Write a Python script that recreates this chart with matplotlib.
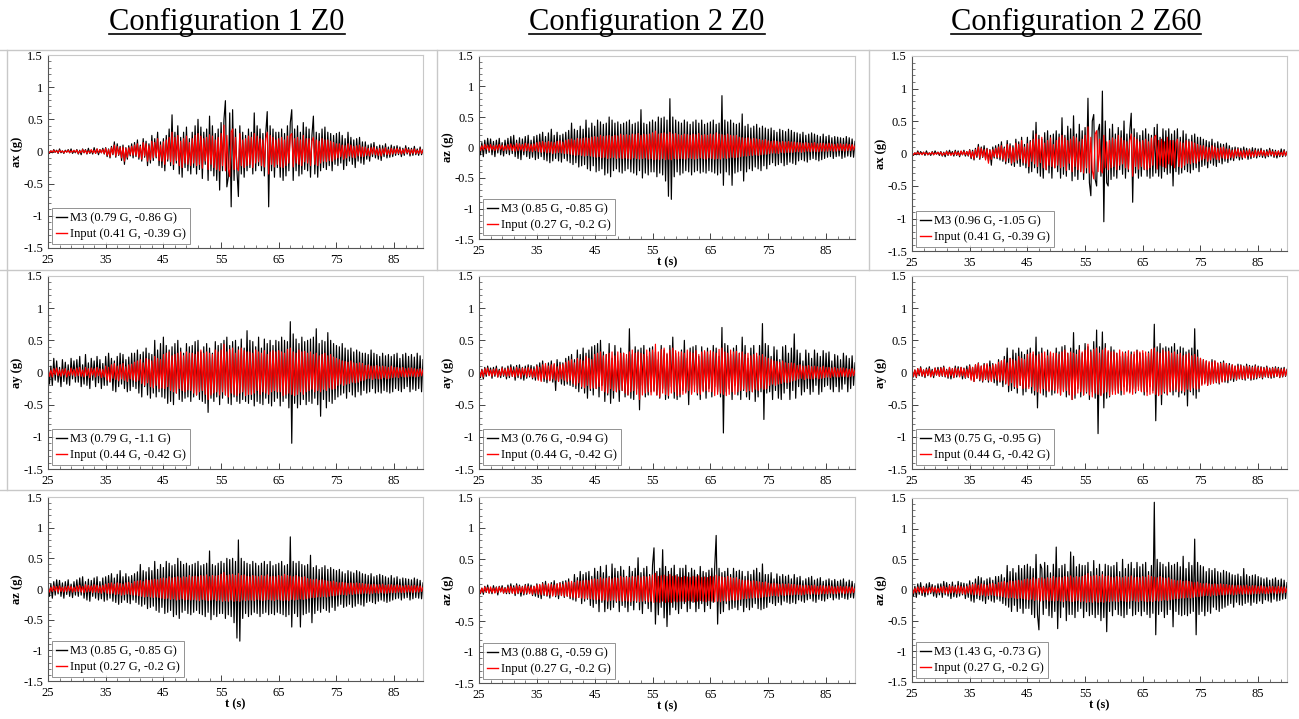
import numpy as np
import matplotlib
matplotlib.use('Agg')
import matplotlib.pyplot as plt
from matplotlib.lines import Line2D
from matplotlib.ticker import FixedLocator, MultipleLocator

plt.rcParams['font.family'] = ['Liberation Serif', 'DejaVu Serif']

# acceleration records, hundredths of g, one sample every 0.25 s from t=25 to t=90
# (20 samples = 5 s per row)
in_x = [1,-2,1,-1,2,-1,1,-2,2,-1,1,-2,1,-1,2,-2,1,-1,2,-1,
        2,-3,1,-2,3,-2,2,-3,1,-2,3,-2,2,-3,4,-2,3,-2,3,-3,
        5,-6,3,-8,6,-4,10,-7,8,-5,6,-10,7,-15,5,-9,6,-5,8,-6,
        10,-6,12,-9,8,-12,14,-7,12,-15,9,-13,16,-10,14,-8,20,-14,10,-15,
        15,-20,18,-12,22,-16,30,-20,22,-14,25,-22,16,-25,20,-18,24,-20,14,-22,
        20,-18,25,-22,28,-20,24,-26,20,-15,22,-28,26,-20,24,-25,18,-28,22,-30,
        28,-22,41,-30,25,-26,-39,30,35,-28,22,-25,-30,28,-22,18,-25,20,-22,24,
        -20,22,-25,28,-18,24,-16,20,-22,18,-24,20,30,-35,25,-20,22,-24,18,-20,
        20,-24,22,-25,18,-22,24,-18,25,28,-24,20,-18,22,-20,18,-22,25,-16,20,
        -18,20,-22,16,22,-20,18,-22,16,-18,20,-15,18,-16,18,-14,16,-15,14,-12,
        12,-10,12,-8,10,-12,9,-10,12,-7,10,-9,8,-10,9,-7,10,-8,7,-8,
        7,-6,5,-7,6,-4,7,-5,4,-6,5,-7,4,-4,6,-5,3,-5,5,-4,
        4,-3,5,-3,4,-4,3,-3,5,-2,3,-4,3,-3,4,-3,2,-3,4,-3, 2]
in_y = [5,-6,4,-7,6,-3,7,-5,4,-6,5,-4,6,-7,3,-5,7,-4,5,-6,
        7,-5,8,-6,4,-7,8,-5,6,-8,7,-4,6,-7,8,-5,6,-8,5,-7,
        10,-12,8,-14,12,-9,14,-11,10,-13,12,-10,14,-12,9,-14,12,-10,13,-12,
        16,-14,18,-12,20,-17,15,-20,22,-16,20,-22,18,-24,25,-20,22,-25,20,-24,
        28,-25,30,-22,32,-28,26,-30,28,-32,30,-25,32,-28,26,-30,32,-27,30,-28,
        30,-32,28,-35,32,-30,35,-28,30,-34,32,-42,30,-35,28,-32,35,-30,32,-35,
        35,-30,44,-35,32,-38,36,-32,38,-34,30,-36,35,-32,38,-30,34,-36,32,-34,
        32,-34,30,-32,35,-28,32,-34,30,-30,34,-32,28,-34,32,-30,34,-28,32,-30,
        34,-30,32,-36,30,-34,36,-32,38,-34,32,-36,30,-34,35,-30,32,-34,33,-30,
        30,-28,32,-26,28,-30,30,-28,26,-30,28,-26,30,-28,26,-24,28,-26,24,-25,
        22,-20,20,-18,18,-20,17,-18,16,-17,18,-15,15,-16,14,-15,15,-13,14,-12,
        11,-10,12,-9,10,-11,10,-9,11,-10,9,-10,10,-8,9,-10,8,-9,10,-8,
        8,-7,8,-8,7,-6,8,-7,6,-7,7,-6,7,-6,6,-7,5,-6,6,-5, 4]
in_z = [4,-5,3,-4,5,-3,4,-5,5,-4,3,-5,4,-4,5,-3,4,-5,3,-4,
        5,-4,6,-5,4,-6,7,-5,6,-4,5,-6,7,-5,6,-6,5,-7,6,-5,
        8,-7,9,-8,10,-7,8,-9,10,-8,9,-10,8,-9,10,-8,11,-9,9,-10,
        12,-10,13,-11,14,-12,12,-13,15,-12,14,-13,15,-14,16,-13,15,-14,17,-15,
        18,-16,17,-15,20,-17,18,-16,19,-18,20,-17,18,-16,20,-18,19,-17,22,-18,
        20,-17,21,-18,20,-19,22,-17,21,-18,23,-19,20,-18,22,-17,21,-19,22,-18,
        24,-20,27,-19,22,-20,23,-18,24,-20,22,-19,25,-20,22,-18,23,-19,21,-18,
        20,-18,22,-19,21,-17,20,-18,22,-19,21,-18,23,-17,20,-18,21,-19,20,-17,
        22,-18,21,-19,24,-18,22,-19,21,-17,20,-18,22,-17,20,-16,19,-17,20,-16,
        17,-15,16,-14,15,-14,16,-13,14,-13,15,-12,14,-13,13,-12,12,-11,13,-11,
        11,-10,10,-9,11,-9,10,-10,9,-8,10,-9,9,-8,10,-8,9,-8,9,-7,
        8,-7,8,-8,7,-7,8,-6,7,-7,7,-6,8,-7,6,-7,7,-6,7,-6,
        6,-6,7,-5,6,-6,5,-6,6,-5,6,-5,5,-6,6,-5,5,-5,5,-4, 3]

c1_x = [2,-3,1,-2,3,-1,2,-3,4,-2,1,-3,2,-1,3,-2,4,-3,1,-2,
        3,-4,2,-5,4,-2,3,-4,5,-3,2,-4,6,-3,4,-5,3,-2,5,-4,
        6,-8,4,-10,8,-5,15,-9,12,-6,8,-14,10,-20,6,-12,9,-7,12,-10,
        14,-8,18,-12,10,-15,20,-9,16,-22,12,-18,25,-14,20,-10,30,-22,15,-25,
        20,-30,25,-15,35,-22,57,-28,30,-18,40,-35,22,-40,30,-25,38,-30,20,-35,
        30,-25,40,-35,50,-28,38,-42,30,-20,35,-45,55,-30,40,-38,28,-45,35,-60,
        45,-30,50,79,-55,-40,60,-86,65,-45,35,-30,-70,40,-35,30,-40,25,-30,35,
        -25,30,-35,60,-30,40,-22,35,-30,28,-38,30,62,-86,40,-30,35,-40,30,-25,
        30,-40,35,-45,28,-38,40,-30,45,65,-45,35,-30,40,-38,30,-35,45,-28,38,
        -30,35,-40,25,55,-35,30,-40,28,-30,35,-25,38,-28,30,-22,28,-30,25,-20,
        28,-22,30,-18,25,-28,20,-22,30,-15,22,-20,18,-25,20,-15,22,-18,15,-20,
        15,-12,10,-15,12,-8,14,-10,8,-12,10,-14,9,-8,12,-10,7,-9,10,-8,
        8,-6,9,-5,7,-8,5,-6,9,-4,6,-7,5,-6,8,-5,4,-6,7,-5, 3]
c1_y = [15,-18,10,-20,22,-12,18,-15,8,-22,20,-14,16,-18,12,-20,22,-10,18,-15,
        20,-15,25,-22,12,-18,28,-20,15,-25,22,-12,18,-22,25,-16,20,-25,14,-20,
        25,-20,30,-15,22,-28,18,-30,25,-22,30,-18,28,-25,20,-30,24,-28,30,-22,
        30,-25,35,-32,28,-38,32,-22,38,-35,30,-40,28,-32,50,-38,35,-30,45,-38,
        55,-40,42,-48,35,-45,40,-50,45,-32,50,-42,38,-45,30,-40,45,-38,40,-45,
        42,-38,48,-35,50,-42,32,-45,40,-48,45,-62,38,-40,30,-45,48,-38,42,-50,
        45,-40,50,-35,55,-48,42,-50,48,-38,50,-45,40,-48,52,-42,38,-45,65,-48,
        50,-42,48,-52,40,-45,55,-48,38,-50,52,-40,45,-48,50,-52,42,-45,50,-40,
        48,-52,55,-45,50,-40,48,-55,79,-110,60,-48,52,-55,45,-50,55,-42,48,-50,
        50,-45,52,-48,55,-40,68,-50,45,-68,50,-42,48,-55,62,-45,50,-48,45,-42,
        42,-38,40,-35,45,-32,38,-40,35,-30,38,-35,32,-38,35,-30,32,-35,30,-28,
        30,-32,28,-30,35,-25,30,-32,28,-30,25,-32,30,-28,26,-30,28,-32,25,-30,
        28,-25,30,-28,22,-30,28,-25,30,-22,25,-30,28,-26,24,-28,30,-25,26,-30, 20]
c1_z = [10,-12,8,-15,12,-10,15,-8,14,-12,10,-15,12,-9,15,-12,8,-14,12,-10,
        15,-12,18,-10,20,-15,12,-18,16,-20,14,-12,18,-15,20,-18,12,-16,18,-20,
        20,-18,22,-15,25,-20,18,-22,24,-25,30,-22,20,-18,25,-22,20,-24,22,-18,
        25,-22,28,-25,40,-28,30,-25,28,-32,35,-30,30,-28,45,-35,32,-38,40,-30,
        35,-40,45,-38,42,-35,38,-45,40,-42,50,-48,45,-38,40,-35,42,-40,38,-42,
        40,-38,42,-35,45,-40,38,-42,40,-45,42,-38,62,-50,40,-42,38,-45,42,-40,
        45,-40,42,-48,50,-42,48,-45,50,-55,45,-80,80,-85,50,-48,45,-40,42,-45,
        40,-42,45,-38,42,-40,38,-45,42,-40,45,-38,40,-42,45,-40,38,-42,40,-38,
        42,-40,45,-42,38,-45,40,-42,85,-62,45,-40,42,-45,45,-62,40,-42,38,-40,
        40,-38,55,-55,35,-40,38,-35,32,-38,35,-32,38,-35,32,-38,35,-30,32,-35,
        30,-28,32,-25,28,-30,25,-28,30,-25,28,-30,26,-28,30,-24,28,-26,25,-28,
        24,-22,22,-20,25,-22,20,-24,22,-20,24,-18,22,-20,20,-22,18,-20,22,-18,
        18,-16,20,-15,16,-18,18,-15,17,-14,16,-18,15,-16,18,-14,16,-15,14,-16, 10]
c2z0_y = [6,-8,5,-10,8,-6,10,-4,7,-9,8,-6,10,-7,5,-8,9,-6,7,-10,
          10,-8,12,-6,9,-12,11,-8,12,-10,8,-12,10,-9,12,-7,11,-10,9,-12,
          12,-10,15,-12,18,-14,10,-16,15,-12,18,-15,12,-28,20,-14,16,-18,15,-20,
          22,-18,25,-20,28,-22,20,-25,35,-30,28,-25,38,-32,30,-40,35,-28,40,-35,
          42,-25,45,-38,50,-20,32,-45,28,-35,45,-48,22,-40,42,-30,18,-45,38,-28,
          30,-38,22,-35,68,-40,28,-42,40,-25,35,-58,38,-20,42,-38,25,-35,38,-30,
          40,-28,32,-35,20,-40,42,-25,35,-42,28,-40,42,-22,55,-40,30,-42,25,-38,
          35,-28,50,-30,22,-50,38,-32,40,-20,42,-35,25,-42,40,-28,32,-40,38,-25,
          28,-38,42,-22,38,-30,25,-38,70,-94,45,-30,42,-25,28,-42,38,-20,42,-35,
          30,-42,55,-28,42,-38,22,-42,38,-30,42,-45,25,-38,42,-30,76,-73,45,-32,
          42,-30,25,-42,40,-28,35,-40,20,-42,40,-32,42,-25,30,-42,38,-28,60,-40,
          35,-22,30,-35,18,-30,35,-25,30,-34,22,-30,35,-20,30,-34,25,-30,34,-22,
          30,-20,32,-26,18,-30,28,-22,26,-30,20,-26,30,-18,26,-30,22,-25,26,-20, 15]
c2z0_z = [5,-6,3,-7,6,-4,8,-5,3,-6,7,-4,5,-8,6,-3,7,-5,4,-6,
          8,-6,10,-5,7,-9,10,-6,8,-10,6,-8,9,-7,10,-5,8,-9,6,-10,
          10,-12,8,-14,12,-9,14,-10,7,-13,12,-8,15,-11,10,-14,12,-9,14,-12,
          15,-10,18,-14,12,-16,25,-18,20,-12,30,-22,25,-18,28,-15,30,-25,22,-28,
          35,-22,30,-35,38,-20,28,-35,40,-30,22,-32,42,-28,35,-20,30,-35,38,-25,
          32,-28,22,-35,38,-25,30,-32,35,-20,52,-32,28,-38,35,-22,38,-30,25,-35,
          40,68,-55,30,-40,35,-28,65,-45,38,-59,30,-40,35,-28,40,-32,25,-38,35,
          -30,35,-22,40,-35,28,-30,35,-20,32,-35,25,-30,38,-22,30,-35,28,-25,32,
          -30,35,-20,38,88,-55,35,-38,28,-35,30,-22,35,-32,25,-30,35,-28,30,-32,
          32,-25,30,-35,22,-28,30,-32,25,-28,32,-22,35,-30,28,-32,42,-30,25,-28,
          25,-20,28,-22,18,-25,26,-20,22,-24,25,-18,22,-20,24,-22,18,-20,25,-22,
          20,-16,22,-18,15,-20,18,-16,20,-14,22,-18,16,-20,18,-15,20,-17,14,-18,
          16,-14,18,-12,15,-16,17,-13,14,-15,16,-12,18,-14,13,-15,16,-12,14,-13, 10]
c2z60_x = [2,-3,1,-2,4,-2,3,-1,2,-3,4,-2,1,-3,3,-2,4,-1,2,-3,
           3,-4,2,-5,4,-3,5,-2,3,-4,5,-3,4,-5,3,-2,5,-4,3,-4,
           6,-8,5,-10,8,-6,14,-9,10,-6,12,-8,8,-12,6,-18,10,-7,12,-8,
           14,-10,18,-12,10,-16,20,-14,15,-18,12,-20,22,-15,18,-20,25,-18,14,-22,
           25,-30,20,-28,35,-22,48,-30,28,-35,22,-38,32,-25,35,-30,28,-38,30,-22,
           35,-28,30,-38,55,-32,28,-35,42,-25,38,-42,58,-35,30,-40,45,-28,35,-40,
           40,-30,85,-45,-65,50,60,-40,-50,35,45,-35,96,-105,50,-45,-50,38,-40,45,
           -35,30,-38,40,-25,35,-32,50,-38,30,-28,35,62,-75,38,-30,32,-38,28,-35,
           35,-25,38,-35,30,-38,28,-35,40,-30,45,-35,25,-38,38,-28,35,-32,38,-30,
           30,-50,35,-28,38,-32,25,-30,35,-25,30,-28,22,-30,28,-25,30,-22,25,-28,
           25,-20,22,-18,20,-22,18,-15,22,-18,16,-20,18,-14,15,-16,14,-12,16,-14,
           12,-10,9,-11,10,-7,9,-10,8,-9,10,-6,8,-9,7,-8,9,-6,8,-7,
           7,-5,8,-6,5,-7,6,-5,8,-4,6,-6,5,-7,4,-5,7,-5,6,-4, 3]
c2z60_y = [6,-7,4,-8,6,-5,9,-6,4,-8,7,-5,9,-6,5,-8,7,-4,8,-6,
           8,-6,10,-7,5,-9,8,-10,6,-8,10,-7,9,-6,8,-10,7,-9,10,-8,
           12,-10,8,-14,12,-9,15,-13,10,-15,14,-11,12,-15,18,-12,14,-16,12,-20,
           20,-15,18,-22,25,-18,38,-30,22,-28,35,-25,30,-32,38,-20,32,-35,28,-30,
           35,-22,38,-32,28,-35,55,-55,32,-25,38,-35,22,-38,35,-28,30,-35,25,-32,
           38,-25,32,-35,40,-28,42,-38,30,-35,38,-42,62,-40,35,-25,42,-38,30,-35,
           45,-32,40,-42,35,-30,48,-40,66,-95,40,-35,63,-55,45,-40,32,-38,40,-30,
           35,-28,30,-32,25,-35,30,-22,32,-28,25,-30,32,-25,28,-32,35,-22,30,-28,
           30,-35,25,-30,32,-22,35,-28,75,-75,40,-35,45,-50,38,-32,40,-35,38,-30,
           40,-35,45,-30,35,-38,40,-32,38,-35,32,-52,35,-30,38,-35,68,-40,35,-30,
           22,-18,20,-16,18,-20,15,-18,20,-15,18,-16,14,-18,16,-14,18,-15,14,-16,
           14,-12,12,-14,10,-12,13,-10,12,-11,10,-12,13,-9,11,-12,10,-11,12,-10,
           10,-8,9,-10,8,-7,10,-8,7,-9,8,-8,9,-6,8,-8,7,-7,8,-6, 5]
c2z60_z = [8,-10,6,-12,10,-7,12,-9,6,-11,10,-8,12,-6,9,-10,7,-12,10,-8,
           10,-12,14,-8,12,-10,9,-14,13,-11,8,-12,14,-10,12,-8,11,-14,10,-12,
           15,-18,12,-20,18,-14,22,-16,20,-18,15,-22,18,-15,20,-18,16,-20,22,-15,
           22,-18,25,-22,20,-25,40,-28,30,-35,35,-25,28,-35,40,-30,35,-38,40,-30,
           42,-30,38,-40,35,-45,58,-40,-65,42,35,-40,45,-30,40,-42,28,-45,42,-35,
           70,-63,35,-45,40,-28,42,-50,30,-40,62,-40,55,-45,38,-35,42,-30,40,-45,
           40,-35,45,-42,30,-40,48,-45,35,-40,42,-50,30,-45,42,-68,40,-35,38,-42,
           40,-32,45,-40,30,-42,50,-45,35,-40,42,-30,45,-42,35,-40,45,-35,38,-42,
           42,-35,45,-40,30,-45,40,-38,143,-73,50,-40,45,-35,42,-45,38,-40,45,-32,
           40,-60,42,-35,45,-40,38,-42,55,-40,35,-42,45,-38,40,-35,83,-73,45,-40,
           40,-35,38,-42,30,-35,35,-38,32,-28,35,-32,30,-35,28,-30,32,-28,30,-25,
           28,-22,25,-28,24,-20,26,-24,22,-25,35,-22,25,-20,22,-25,24,-20,25,-22,
           22,-18,20,-22,18,-16,20,-18,16,-20,18,-15,20,-18,16,-17,18,-15,16,-14, 12]

titles = ['Configuration 1 Z0', 'Configuration 2 Z0', 'Configuration 2 Z60']

# (row, col, M3 record, input record, y label, M3 label, input label, show t label)
panels = [
    (0, 0, c1_x, in_x, 'ax (g)', 'M3 (0.79 G, -0.86 G)', 'Input (0.41 G, -0.39 G)', False),
    (0, 1, c1_z, in_z, 'az (g)', 'M3 (0.85 G, -0.85 G)', 'Input (0.27 G, -0.2 G)', True),
    (0, 2, c2z60_x, in_x, 'ax (g)', 'M3 (0.96 G, -1.05 G)', 'Input (0.41 G, -0.39 G)', False),
    (1, 0, c1_y, in_y, 'ay (g)', 'M3 (0.79 G, -1.1 G)', 'Input (0.44 G, -0.42 G)', False),
    (1, 1, c2z0_y, in_y, 'ay (g)', 'M3 (0.76 G, -0.94 G)', 'Input (0.44 G, -0.42 G)', False),
    (1, 2, c2z60_y, in_y, 'ay (g)', 'M3 (0.75 G, -0.95 G)', 'Input (0.44 G, -0.42 G)', False),
    (2, 0, c1_z, in_z, 'az (g)', 'M3 (0.85 G, -0.85 G)', 'Input (0.27 G, -0.2 G)', True),
    (2, 1, c2z0_z, in_z, 'az (g)', 'M3 (0.88 G, -0.59 G)', 'Input (0.27 G, -0.2 G)', True),
    (2, 2, c2z60_z, in_z, 'az (g)', 'M3 (1.43 G, -0.73 G)', 'Input (0.27 G, -0.2 G)', True),
]

W, H = 1299, 719
fig = plt.figure(figsize=(W / 100, H / 100), dpi=100)

# axes boxes in pixels: left, right, top, bottom
col_lr = [(48, 423), (479, 855), (912, 1287)]
row_tb = [[(55, 248), (56, 239), (56, 251)],
          [(276, 469), (276, 469), (276, 469)],
          [(497, 681), (497, 683), (498, 682)]]

# light table rules between the cells
grey = '#c8c8c8'
for y in [50, 270, 490]:
    fig.add_artist(Line2D([0, 1], [1 - y / H, 1 - y / H], color=grey, lw=1))
for x in [7, 437, 869]:
    fig.add_artist(Line2D([x / W, x / W], [1 - 50 / H, 1 - 270 / H], color=grey, lw=1))
fig.add_artist(Line2D([7 / W, 7 / W], [1 - 270 / H, 1 - 490 / H], color=grey, lw=1))

for r, c, m3, inp, ylab, lab_m3, lab_in, show_t in panels:
    l, rt = col_lr[c]
    t, b = row_tb[r][c]
    ax = fig.add_axes([l / W, 1 - b / H, (rt - l) / W, (b - t) / H])
    ax.plot(np.linspace(25, 90, len(m3)), np.array(m3) / 100.0, color='black', lw=0.85, label=lab_m3)
    ax.plot(np.linspace(25, 90, len(inp)), np.array(inp) / 100.0, color='red', lw=0.85, label=lab_in)
    ax.set_xlim(25, 90)
    ax.set_ylim(-1.5, 1.5)
    ax.xaxis.set_major_locator(FixedLocator(np.arange(25, 90, 10)))
    ax.xaxis.set_minor_locator(FixedLocator(np.arange(25, 91, 2)))
    ax.set_yticks([-1.5, -1, -0.5, 0, 0.5, 1, 1.5])
    ax.set_yticklabels(['-1.5', '-1', '-0.5', '0', '0.5', '1', '1.5'])
    ax.yaxis.set_minor_locator(MultipleLocator(0.1))
    ax.tick_params(which='both', direction='in', labelsize=9, colors='#444444', labelcolor='black')
    ax.tick_params(axis='x', which='major', pad=4)
    ax.tick_params(which='major', length=4, width=0.7)
    ax.tick_params(which='minor', length=2, width=0.5)
    for s in ['left', 'bottom']:
        ax.spines[s].set_color('#555555')
        ax.spines[s].set_linewidth(0.8)
    for s in ['top', 'right']:
        ax.spines[s].set_color('#c8c8c8')
        ax.spines[s].set_linewidth(0.8)
    ax.set_ylabel(ylab, fontsize=9, fontweight='bold', labelpad=0)
    if show_t:
        ax.set_xlabel('t (s)', fontsize=9, fontweight='bold', labelpad=0)
    leg = ax.legend(loc='lower left', fontsize=9, handlelength=0.9, handletextpad=0.2,
                    borderpad=0.35, labelspacing=0.3, borderaxespad=0.3, fancybox=False)
    leg.get_frame().set_edgecolor('#777777')
    leg.get_frame().set_linewidth(0.7)
    for h in leg.get_lines():
        h.set_linewidth(1.0)

# underlined column titles
title_x = [227, 647, 1076]
texts = []
for x, s in zip(title_x, titles):
    texts.append(fig.text(x / W, 1 - 22 / H, s, fontsize=22, ha='center', va='center'))
fig.canvas.draw()
rend = fig.canvas.get_renderer()
for txt in texts:
    bb = txt.get_window_extent(rend).transformed(fig.transFigure.inverted())
    y = bb.y0 + 2.5 / H
    fig.add_artist(Line2D([bb.x0, bb.x1], [y, y], color='black', lw=1.2))

plt.savefig('out.png', dpi=100)
